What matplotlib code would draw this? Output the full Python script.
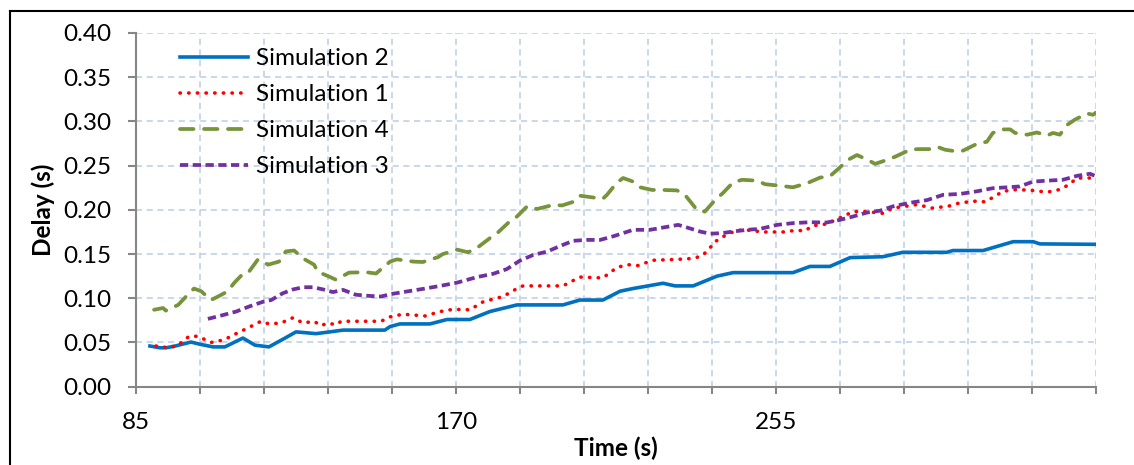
import numpy as np
import matplotlib.pyplot as plt
from matplotlib.lines import Line2D

plt.rcParams['font.family'] = ['Lato', 'DejaVu Sans']

# Simulation 2 (solid blue)
t_sim2 = [88.7, 91.4, 93.0, 95.4, 99.6, 102.0, 105.5, 108.6, 113.4, 116.6, 120.3, 124.6,
          127.5, 132.8, 136.5, 140.0, 151.1, 152.5, 155.1, 163.1, 167.6, 173.7, 179.0,
          186.2, 198.4, 202.9, 209.0, 213.6, 217.0, 225.0, 228.2, 233.0, 239.3, 243.6,
          259.5, 264.0, 269.3, 274.7, 283.4, 288.7, 300.4, 302.0, 310.0, 316.4, 318.0,
          323.3, 325.1, 340.0]
d_sim2 = [0.046, 0.044, 0.044, 0.046, 0.0505, 0.048, 0.045, 0.045, 0.055, 0.047, 0.045, 0.055,
          0.062, 0.060, 0.062, 0.064, 0.064, 0.068, 0.071, 0.071, 0.076, 0.076, 0.085,
          0.0925, 0.0925, 0.098, 0.098, 0.108, 0.111, 0.117, 0.114, 0.114, 0.125, 0.129,
          0.129, 0.136, 0.136, 0.146, 0.147, 0.152, 0.152, 0.154, 0.154, 0.162, 0.164,
          0.164, 0.1615, 0.161]

# Simulation 1 (red dotted)
t_sim1 = [90.3, 93.8, 96.2, 99.1, 101.5, 104.9, 108.4, 111.6, 115.0, 118.2, 120.3, 123.5,
          126.7, 129.4, 132.3, 134.1, 136.0, 138.1, 139.5, 150.1, 152.5, 155.9, 161.8,
          165.8, 169.2, 173.7, 177.2, 182.5, 186.2, 187.8, 198.4, 202.9, 209.0, 212.8,
          215.7, 218.3, 222.3, 228.7, 233.0, 235.3, 236.9, 238.8, 241.5, 244.6, 248.9,
          250.75, 256.9, 260.6, 262.7, 264.6, 268.5, 272.0, 275.5, 279.2, 283.4, 286.1,
          292.5, 296.4, 300.7, 303.9, 308.4, 310.5, 312.6, 315.3, 319.0, 323.0, 327.0,
          330.4, 332.6, 335.0, 338.4, 340.0]
d_sim1 = [0.046, 0.044, 0.047, 0.057, 0.057, 0.050, 0.053, 0.060, 0.067, 0.074, 0.071, 0.072,
          0.078, 0.072, 0.074, 0.069, 0.072, 0.070, 0.074, 0.074, 0.079, 0.082, 0.080,
          0.085, 0.0875, 0.087, 0.096, 0.102, 0.111, 0.114, 0.114, 0.124, 0.123, 0.135,
          0.138, 0.137, 0.143, 0.144, 0.145, 0.148, 0.154, 0.164, 0.171, 0.177, 0.177,
          0.175, 0.175, 0.177, 0.176, 0.182, 0.184, 0.191, 0.198, 0.198, 0.196, 0.202,
          0.206, 0.202, 0.204, 0.208, 0.210, 0.209, 0.214, 0.221, 0.223, 0.222, 0.220,
          0.223, 0.228, 0.236, 0.236, 0.235]

# Simulation 4 (green long dash)
t_sim4 = [89.8, 92.2, 92.9, 96.2, 98.3, 100.4, 102.3, 104.9, 106.8, 109.4, 111.0, 113.7,
          115.0, 117.4, 120.1, 123.0, 124.8, 127.0, 129.4, 132.3, 133.3, 136.3, 138.1,
          141.6, 146.1, 148.75, 152.5, 154.3, 158.6, 161.2, 165.2, 166.5, 170.3, 173.2,
          175.6, 179.0, 180.9, 184.3, 186.2, 188.9, 191.5, 195.8, 198.2, 201.1, 202.9,
          206.4, 209.0, 210.1, 212.8, 214.4, 217.0, 218.9, 222.1, 225.0, 228.7, 230.8,
          234.0, 236.1, 238.8, 240.9, 243.6, 246.0, 250.0, 252.1, 255.5, 259.5, 263.2,
          266.7, 269.3, 271.2, 274.1, 276.5, 279.4, 281.3, 284.5, 286.6, 290.6, 292.7,
          296.7, 298.0, 299.9, 303.1, 304.7, 308.4, 311.0, 312.6, 315.0, 317.2, 318.5,
          321.7, 324.3, 327.0, 328.6, 330.4, 332.3, 334.4, 337.6, 339.2, 340.0]
d_sim4 = [0.087, 0.089, 0.086, 0.0925, 0.102, 0.111, 0.108, 0.098, 0.102, 0.108, 0.117, 0.129,
          0.130, 0.144, 0.138, 0.1415, 0.153, 0.154, 0.145, 0.138, 0.130, 0.1245, 0.121,
          0.129, 0.1295, 0.128, 0.1415, 0.144, 0.1415, 0.141, 0.1465, 0.150, 0.155, 0.152,
          0.157, 0.168, 0.1735, 0.187, 0.1925, 0.204, 0.201, 0.2055, 0.205, 0.209, 0.216,
          0.214, 0.2125, 0.217, 0.231, 0.236, 0.232, 0.2255, 0.2225, 0.2225, 0.222, 0.217,
          0.200, 0.198, 0.211, 0.219, 0.231, 0.234, 0.233, 0.229, 0.2275, 0.2255, 0.230,
          0.2365, 0.238, 0.245, 0.2565, 0.262, 0.2565, 0.252, 0.2565, 0.260, 0.268, 0.2687,
          0.2687, 0.271, 0.268, 0.266, 0.267, 0.2747, 0.277, 0.287, 0.291, 0.291, 0.287,
          0.285, 0.2875, 0.284, 0.287, 0.285, 0.296, 0.302, 0.309, 0.3075, 0.310]

# Simulation 3 (purple short dash)
t_sim3 = [104.1, 108.1, 111.6, 115.0, 118.7, 120.9, 124.0, 126.7, 129.4, 132.0, 134.7, 137.3,
          140.0, 143.4, 146.9, 150.1, 152.5, 155.1, 161.2, 165.8, 170.3, 175.6, 179.8,
          183.5, 187.0, 190.5, 194.2, 197.6, 201.1, 204.8, 208.25, 211.7, 215.7, 217.0,
          221.5, 225.0, 229.0, 231.4, 234.8, 237.5, 240.7, 243.6, 247.3, 250.75, 255.3,
          259.5, 264.0, 268.5, 272.0, 275.5, 279.2, 282.6, 286.1, 290.6, 295.1, 299.4,
          303.9, 308.4, 312.6, 317.2, 319.8, 323.3, 327.0, 331.2, 335.0, 338.4, 340.0]
d_sim3 = [0.0767, 0.081, 0.085, 0.0906, 0.096, 0.098, 0.1057, 0.110, 0.1125, 0.1125, 0.110, 0.107,
          0.1095, 0.104, 0.1027, 0.102, 0.1046, 0.1064, 0.1106, 0.114, 0.1177, 0.124, 0.1276,
          0.133, 0.1426, 0.149, 0.1528, 0.159, 0.165, 0.166, 0.166, 0.170, 0.1755, 0.1774,
          0.1774, 0.180, 0.183, 0.180, 0.1755, 0.173, 0.1737, 0.1755, 0.1774, 0.1785, 0.183,
          0.185, 0.186, 0.1857, 0.1887, 0.1925, 0.197, 0.199, 0.204, 0.208, 0.211, 0.217,
          0.218, 0.221, 0.2245, 0.2257, 0.2265, 0.232, 0.233, 0.234, 0.2385, 0.2408, 0.238]

x_ticks = np.arange(85, 341, 17)
x_labels = ['85', '170', '255']

fig = plt.figure(figsize=(11.34, 4.65), dpi=100)
ax = fig.add_axes([136 / 1134, 1 - 386.7 / 465, 960 / 1134, (386.7 - 33) / 465])

ax.plot(t_sim2, d_sim2, color='#0070C0', lw=2.6, solid_joinstyle='round', label='Simulation 2')
ax.plot(t_sim1, d_sim1, color='#FF0000', lw=2.6, linestyle=(0, (0.1, 2.3)),
        dash_capstyle='round', label='Simulation 1')
ax.plot(t_sim4, d_sim4, color='#77933C', lw=2.7, linestyle=(0, (3.6, 2.8)),
        dash_capstyle='round', label='Simulation 4')
ax.plot(t_sim3, d_sim3, color='#7030A0', lw=2.7, linestyle=(0, (2.2, 1.2)),
        dash_capstyle='butt', label='Simulation 3')

ax.set_xlim(85, 340)
ax.set_ylim(0, 0.40)
ax.set_xticks(x_ticks)
ax.set_xticklabels([str(v) if str(v) in x_labels else '' for v in x_ticks])
ax.set_yticks(np.arange(0, 0.401, 0.05))
ax.set_yticklabels(['%.2f' % v for v in np.arange(0, 0.401, 0.05)])

ax.grid(True, color='#B9CDE5', linestyle=(0, (4, 3)), linewidth=1.1)
ax.set_axisbelow(True)
for s in ['top', 'right']:
    ax.spines[s].set_visible(False)
for s in ['left', 'bottom']:
    ax.spines[s].set_color('#868686')
    ax.spines[s].set_linewidth(1.5)
ax.tick_params(axis='y', length=6, width=1.5, color='#868686', pad=12, labelsize=17.5)
ax.tick_params(axis='x', length=5, width=1.5, color='#868686', pad=13, labelsize=17.5)

ax.set_xlabel('Time (s)', fontsize=17.5, fontweight='bold', labelpad=3)
ax.set_ylabel('Delay (s)', fontsize=17.5, fontweight='bold', labelpad=6)

ax.legend(loc='upper left', bbox_to_anchor=(0.046, 0.957), frameon=False, fontsize=17.5,
          handlelength=2.8, handletextpad=0.33, labelspacing=0.62, borderaxespad=0, borderpad=0)

# chart-area border (left and top only)
fig.add_artist(Line2D([10 / 1134, 10 / 1134], [0, 1 - 11 / 465], color='black', lw=1.5))
fig.add_artist(Line2D([10 / 1134, 1], [1 - 11 / 465, 1 - 11 / 465], color='black', lw=1.5))

fig.savefig('out.png', dpi=100)
